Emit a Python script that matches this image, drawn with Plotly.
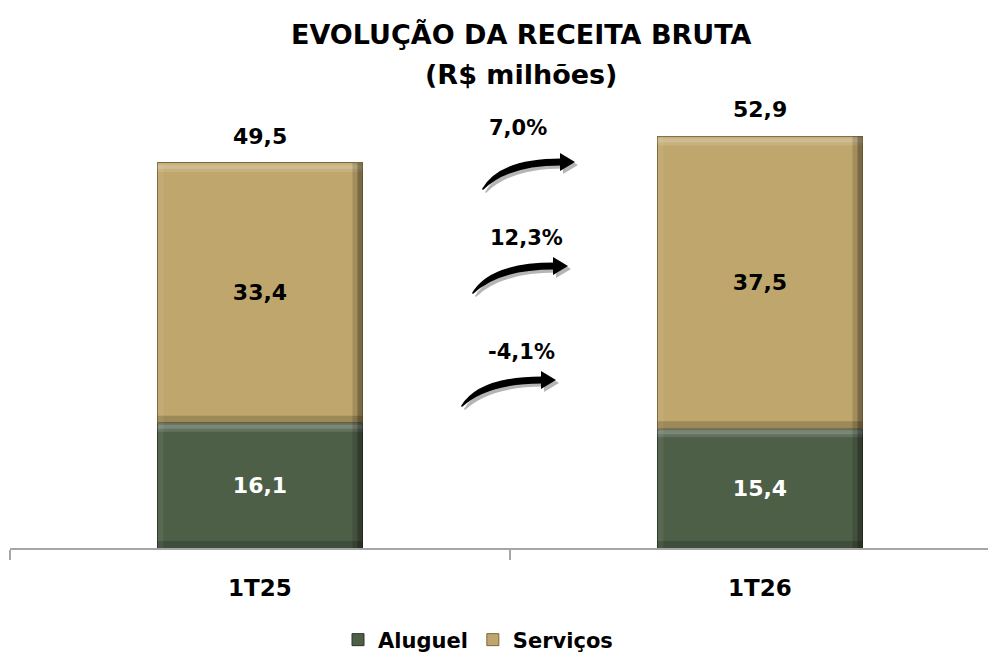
import plotly.graph_objects as go

# ---------------- data ----------------
categories = ["1T25", "1T26"]
aluguel = [16.1, 15.4]
servicos = [33.4, 37.5]
totals = [49.5, 52.9]
growth_labels = ["7,0%", "12,3%", "-4,1%"]   # total, serviços, aluguel
series_names = ["Aluguel", "Serviços"]

title_line1 = "EVOLUÇÃO DA RECEITA BRUTA"
title_line2 = "(R$ milhões)"

# ---------------- layout constants ----------------
OFF = 8                      # default page body margin
W, H = 996 - OFF, 656 - OFF
ML, MR, MT, MB = 2, 0, 92, 108
PW, PH = W - ML - MR, H - MT - MB
FONT = "DejaVu Sans"
GREEN = "#4E5F48"
TAN = "#BFA66C"
BAR_W = 0.41
x_pos = list(range(len(categories)))


def px(x):
    """page pixel x -> paper x"""
    return (x - OFF - ML) / PW


def py(y):
    """page pixel y -> paper y"""
    return (H - MB - (y - OFF)) / PH


fig = go.Figure()
fig.add_trace(go.Bar(
    x=x_pos, y=aluguel, name=series_names[0], width=BAR_W,
    marker=dict(color=GREEN, line=dict(color="#2C3628", width=1)),
    text=[f"{v:.1f}".replace(".", ",") for v in aluguel],
    textposition="inside", insidetextanchor="middle",
    textfont=dict(family=FONT, size=22, color="white", weight="bold"),
))
fig.add_trace(go.Bar(
    x=x_pos, y=servicos, name=series_names[1], width=BAR_W,
    marker=dict(color=TAN, line=dict(color="#7A6838", width=1)),
    text=[f"{v:.1f}".replace(".", ",") for v in servicos],
    textposition="inside", insidetextanchor="middle",
    textfont=dict(family=FONT, size=22, color="black", weight="bold"),
))

shapes = []
# bevel effect on each bar segment (computed from data)
for i, xc in enumerate(x_pos):
    segs = [(0, aluguel[i]), (aluguel[i], aluguel[i] + servicos[i])]
    for (b, t) in segs:
        xl, xr = xc - BAR_W / 2, xc + BAR_W / 2
        # top highlight
        shapes.append(dict(type="rect", xref="x", yref="y", ysizemode="pixel", yanchor=t,
                           x0=xl, x1=xr, y0=-9, y1=0, fillcolor="rgba(255,255,255,0.12)",
                           line=dict(width=0), layer="above"))
        shapes.append(dict(type="rect", xref="x", yref="y", ysizemode="pixel", yanchor=t,
                           x0=xl, x1=xr, y0=-6, y1=-2, fillcolor="rgba(255,255,255,0.15)",
                           line=dict(width=0), layer="above"))
        # right shade
        shapes.append(dict(type="rect", xref="x", yref="y", xsizemode="pixel", xanchor=xr,
                           x0=-10, x1=0, y0=b, y1=t, fillcolor="rgba(0,0,0,0.15)",
                           line=dict(width=0), layer="above"))
        shapes.append(dict(type="rect", xref="x", yref="y", xsizemode="pixel", xanchor=xr,
                           x0=-5, x1=0, y0=b, y1=t, fillcolor="rgba(0,0,0,0.25)",
                           line=dict(width=0), layer="above"))
        # bottom shade
        shapes.append(dict(type="rect", xref="x", yref="y", ysizemode="pixel", yanchor=b,
                           x0=xl, x1=xr, y0=0, y1=7, fillcolor="rgba(0,0,0,0.18)",
                           line=dict(width=0), layer="above"))
        # left light
        shapes.append(dict(type="rect", xref="x", yref="y", xsizemode="pixel", xanchor=xl,
                           x0=0, x1=6, y0=b, y1=t, fillcolor="rgba(255,255,255,0.06)",
                           line=dict(width=0), layer="above"))


def arrow(tail, base, tip):
    (x0, y0), (xb, yb), (xt, yt) = tail, base, tip
    w = xb - x0
    out = []
    for dx, dy, col in [(3, 3, "rgba(120,120,120,0.55)"), (0, 0, "black")]:
        def P(x, y):
            return f"{px(x + dx):.5f},{py(y + dy):.5f}"
        body = (f"M {P(x0, y0)} Q {P(x0 + 0.22 * w, yb - 3.5)} {P(xb, yb - 3.5)} "
                f"L {P(xb, yb + 3.5)} Q {P(x0 + 0.32 * w, yb + 3.5)} {P(x0 + 1, y0 + 1)} Z")
        head = f"M {P(xb - 1, yb - 9)} L {P(xt, yt)} L {P(xb - 1, yb + 9)} Z"
        for p in (body, head):
            out.append(dict(type="path", xref="paper", yref="paper", path=p,
                            fillcolor=col, line=dict(width=0), layer="above"))
    return out


arrow_geom = [((482, 189), (561, 162), (575, 162)),
              ((472, 293), (554, 266), (568, 266)),
              ((461, 406), (542, 380), (556, 380))]
label_pos = [(518, 128), (526, 238), (521, 352)]
for g in arrow_geom:
    shapes += arrow(*g)

annotations = []
for lab, (lx, ly) in zip(growth_labels, label_pos):
    annotations.append(dict(text=lab, xref="paper", yref="paper", x=px(lx), y=py(ly),
                            showarrow=False, xanchor="center", yanchor="middle",
                            font=dict(family=FONT, size=21, color="black", weight="bold")))

# totals above bars
for xc, t in zip(x_pos, totals):
    annotations.append(dict(text=f"{t:.1f}".replace(".", ","), x=xc, y=t, xref="x", yref="y",
                            showarrow=False, yanchor="bottom", yshift=12,
                            font=dict(family=FONT, size=22, color="black", weight="bold")))

# category labels
for xc, c in zip(x_pos, categories):
    annotations.append(dict(text=c, x=xc, y=py(588), xref="x", yref="paper",
                            showarrow=False, yanchor="middle",
                            font=dict(family=FONT, size=23, color="black", weight="bold")))

# title
annotations.append(dict(text=title_line1, xref="paper", yref="paper", x=px(521), y=py(35),
                        showarrow=False, xanchor="center", yanchor="middle",
                        font=dict(family=FONT, size=27, color="black", weight="bold")))
annotations.append(dict(text=title_line2, xref="paper", yref="paper", x=px(521), y=py(74),
                        showarrow=False, xanchor="center", yanchor="middle",
                        font=dict(family=FONT, size=27, color="black", weight="bold")))

x_range = [-0.5, -0.5 + PW / 500.0]
y_top = PH / 7.78

fig.update_layout(
    width=W, height=H,
    margin=dict(l=ML, r=MR, t=MT, b=MB, autoexpand=False),
    barmode="stack", plot_bgcolor="white", paper_bgcolor="white",
    showlegend=True,
    legend=dict(orientation="h", x=px(478), xanchor="center", y=py(640), yanchor="middle",
                font=dict(family=FONT, size=21, color="black", weight="bold"),
                itemwidth=30, traceorder="normal", tracegroupgap=0),
    xaxis=dict(range=x_range, tickvals=[-0.5, 0.5, 1.5], ticktext=["", "", ""],
               ticks="outside", ticklen=10, tickcolor="#A6A6A6", tickwidth=2,
               showline=True, linecolor="#A6A6A6", linewidth=2, showgrid=False,
               zeroline=False, fixedrange=True, automargin=False),
    yaxis=dict(range=[0, y_top], visible=False, showgrid=False, zeroline=False,
               automargin=False),
    shapes=shapes, annotations=annotations,
)

fig.write_html("out.html")
